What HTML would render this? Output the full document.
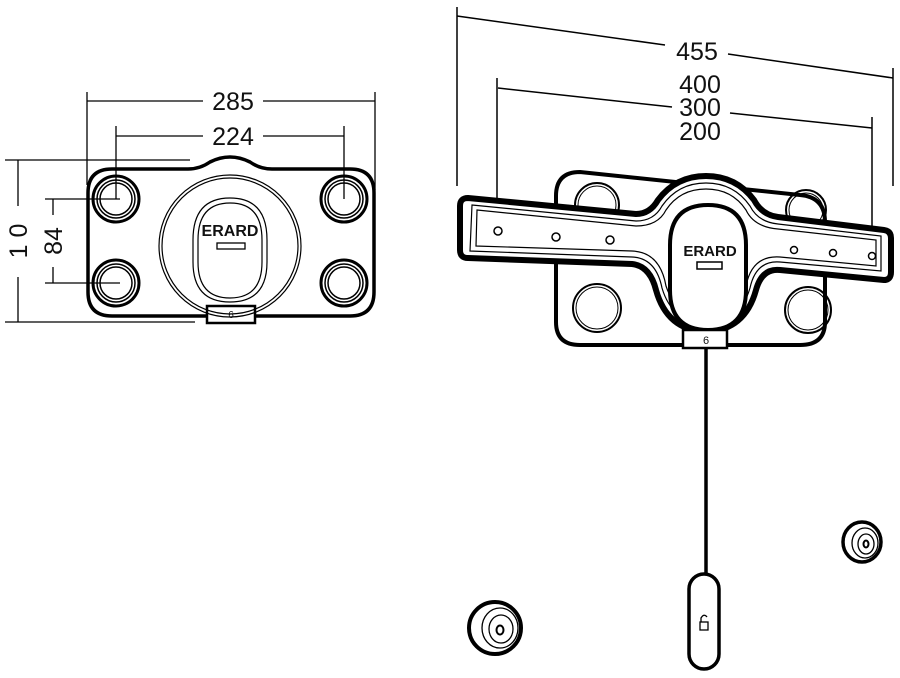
<!DOCTYPE html>
<html><head><meta charset="utf-8"><style>
html,body{margin:0;padding:0;background:#fff}
svg{display:block}
text{font-family:"Liberation Sans",sans-serif;fill:#111}
.d{font-size:25px}
</style></head><body>
<svg width="900" height="678" viewBox="0 0 900 678" xmlns="http://www.w3.org/2000/svg" fill="none" stroke="#000">
<!-- LEFT dims -->
<g stroke-width="1.3">
<line x1="87" y1="92" x2="87" y2="185"/><line x1="375" y1="92" x2="375" y2="190"/>
<line x1="87" y1="101" x2="203" y2="101"/><line x1="263" y1="101" x2="375" y2="101"/>
<line x1="116" y1="126" x2="116" y2="199"/><line x1="344" y1="126" x2="344" y2="199"/>
<line x1="116" y1="136" x2="203" y2="136"/><line x1="263" y1="136" x2="344" y2="136"/>
<line x1="5" y1="160" x2="190" y2="160"/><line x1="5" y1="322" x2="195" y2="322"/>
<line x1="18" y1="160" x2="18" y2="206"/><line x1="18" y1="277" x2="18" y2="322"/>
<line x1="45" y1="199" x2="120" y2="199"/><line x1="45" y1="283" x2="120" y2="283"/>
<line x1="53" y1="199" x2="53" y2="215"/><line x1="53" y1="267" x2="53" y2="283"/>
</g>
<text class="d" x="233" y="110" text-anchor="middle" stroke="none">285</text>
<text class="d" x="233" y="145" text-anchor="middle" stroke="none">224</text>
<text class="d" transform="translate(27,241) rotate(-90)" text-anchor="middle" stroke="none">1 0</text>
<text class="d" transform="translate(62,241) rotate(-90)" text-anchor="middle" stroke="none">84</text>
<!-- left plate -->
<path d="M112 169 H188 Q200 169 210 162 Q230 152 250 162 Q260 169 272 169 H350 Q374 169 374 193 V292 Q374 316 350 316 H112 Q88 316 88 292 V193 Q88 169 112 169Z" stroke-width="3.5"/>
<rect x="207" y="306" width="48" height="17" fill="#fff" stroke-width="2.5"/>
<text x="231" y="318" font-size="10" text-anchor="middle" stroke="none">6</text>
<g stroke-width="1.5">
<circle cx="116" cy="199" r="23" stroke-width="3"/><circle cx="116" cy="199" r="19"/><circle cx="116" cy="199" r="16"/>
<circle cx="344" cy="199" r="23" stroke-width="3"/><circle cx="344" cy="199" r="19"/><circle cx="344" cy="199" r="16"/>
<circle cx="116" cy="283" r="23" stroke-width="3"/><circle cx="116" cy="283" r="19"/><circle cx="116" cy="283" r="16"/>
<circle cx="344" cy="283" r="23" stroke-width="3"/><circle cx="344" cy="283" r="19"/><circle cx="344" cy="283" r="16"/>
<circle cx="230" cy="246" r="71" stroke-width="1.2"/><circle cx="230" cy="246" r="68" stroke-width="1.2"/>
<path d="M193 240 Q193 198 230 198 Q267 198 267 240 V262 Q267 302 230 302 Q193 302 193 262Z" stroke-width="1.2"/>
<path d="M198 240 Q198 203 230 203 Q262 203 262 240 V262 Q262 298 230 298 Q198 298 198 262Z" stroke-width="1.2"/>
<rect x="217" y="243" width="28" height="6" stroke-width="1.3"/>
</g>
<text x="230" y="236" font-size="16" font-weight="bold" text-anchor="middle" stroke="none">ERARD</text>
<!-- RIGHT dims -->
<g stroke-width="1.5">
<line x1="457" y1="7" x2="457" y2="186"/><line x1="893" y1="68" x2="893" y2="186"/>
<line x1="457" y1="16" x2="665" y2="45"/><line x1="728" y1="54" x2="893" y2="78"/>
<line x1="497" y1="78" x2="497" y2="232"/><line x1="872" y1="117" x2="872" y2="255"/>
<line x1="498" y1="88" x2="672" y2="107"/><line x1="730" y1="113" x2="872" y2="128"/>
</g>
<text class="d" x="697" y="60" text-anchor="middle" stroke="none">455</text>
<text class="d" x="700" y="93" text-anchor="middle" stroke="none">400</text>
<text class="d" x="700" y="116" text-anchor="middle" stroke="none">300</text>
<text class="d" x="700" y="140" text-anchor="middle" stroke="none">200</text>
<!-- right back plate -->
<path d="M580 172 L800 195 Q825 197 825 222 V322 Q825 345 800 345 H580 Q556 345 556 322 V196 Q556 172 580 172Z" stroke-width="4" fill="#fff"/>
<g stroke-width="2">
<circle cx="597" cy="205" r="22"/><circle cx="597" cy="205" r="19" stroke-width="1"/>
<circle cx="806" cy="210" r="20"/><circle cx="806" cy="210" r="17" stroke-width="1"/>
<circle cx="597" cy="308" r="24"/><circle cx="597" cy="308" r="21" stroke-width="1"/>
<circle cx="808" cy="310" r="23"/><circle cx="808" cy="310" r="20" stroke-width="1"/>
</g>
<path d="M662 305 Q706 345 750 305" stroke-width="1.3"/>
<!-- bar -->
<path d="M468 198 L636 214 Q650 214 658 200 Q676 176 706 176 Q736 176 754 200 Q762 215 778 217 L884 230 Q891 231 891 238 V272 Q891 280 884 280 L780 270 Q762 268 756 290 Q745 330 706 332 Q667 330 656 290 Q650 266 632 264 L468 258 Q460 258 460 250 V206 Q460 198 468 198Z" stroke-width="6" fill="#fff" stroke-linejoin="round"/>
<path d="M472 205 L636 221 Q654 221 662 206 Q678 183 706 183 Q734 183 750 206 Q758 222 778 224 L881 236 V271 L780 262 Q756 260 750 288 Q740 322 706 324 Q672 322 662 288 Q656 258 632 257 L470 251Z" stroke-width="1.2"/>
<path d="M477 210 L636 226 Q658 226 666 210 Q680 189 706 189 Q732 189 746 210 Q754 227 778 229 L876 240 V266 L780 257 Q752 255 746 286 Q736 316 706 318 Q676 316 666 286 Q660 252 632 251 L476 246Z" stroke-width="1.2"/>
<path d="M670 245 Q670 205 708 205 Q746 205 746 245 V290 Q746 330 708 330 Q670 330 670 290Z" stroke-width="4" fill="#fff"/>
<rect x="697" y="262" width="25" height="7" stroke-width="1.5"/>
<text x="710" y="256" font-size="15" font-weight="bold" text-anchor="middle" stroke="none">ERARD</text>
<rect x="683" y="330" width="44" height="18" fill="#fff" stroke-width="2.5"/>
<text x="706" y="344" font-size="11" text-anchor="middle" stroke="none">6</text>
<g stroke-width="1.5">
<circle cx="498" cy="231" r="4"/><circle cx="556" cy="237" r="4"/><circle cx="610" cy="240" r="4"/>
<circle cx="794" cy="250" r="3.5"/><circle cx="833" cy="253" r="3.5"/><circle cx="872" cy="256" r="3.5"/>
</g>
<!-- cord and fob -->
<line x1="706" y1="348" x2="706" y2="575" stroke-width="3.5"/>
<rect x="689" y="574" width="30" height="95" rx="15" stroke-width="3.5" fill="#fff"/>
<rect x="700" y="622" width="8" height="8" stroke-width="1.3"/><path d="M701 622 V618 Q704 613 707 617" stroke-width="1.3"/>
<!-- screws -->
<g>
<ellipse cx="495" cy="628" rx="26" ry="26" stroke-width="4"/>
<ellipse cx="500" cy="628" rx="18" ry="20" stroke-width="1.3"/>
<ellipse cx="501" cy="629" rx="12" ry="14" stroke-width="1.3"/>
<ellipse cx="500" cy="630" rx="3.5" ry="4.5" stroke-width="2"/>
<ellipse cx="862" cy="542" rx="19" ry="20" stroke-width="3.5"/>
<ellipse cx="865" cy="543" rx="13" ry="15" stroke-width="1.3"/>
<ellipse cx="866" cy="544" rx="8" ry="10" stroke-width="1.3"/>
<ellipse cx="866" cy="544" rx="2.5" ry="3.5" stroke-width="2"/>
</g>
</svg>
</body></html>
